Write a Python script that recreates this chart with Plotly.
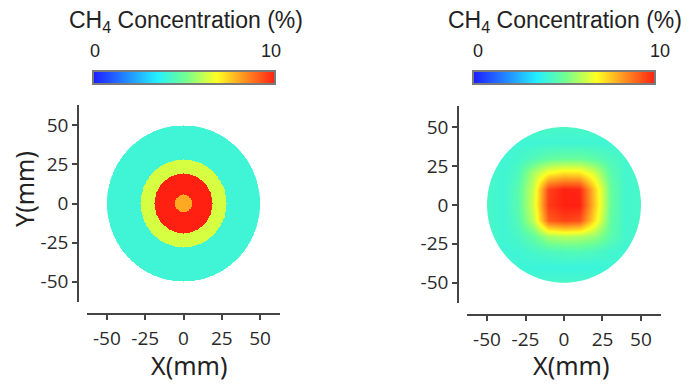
import numpy as np
import plotly.graph_objects as go

W, H = 690, 384

# ---------------- data ----------------
# Left map: concentric rings (outer radius in mm, CH4 %)
ring_outer_radii_mm = [5.5, 19.0, 28.0, 50.0]
ring_values = [8.0, 10.0, 6.3, 4.1]

# Right map: coarse field (rows bottom->top, y=-50..50; cols x=-50..50)
grid_mm = [-50, -40, -30, -20, -10, 0, 10, 20, 30, 40, 50]
right_z = [
    [4.3, 4.3, 4.3, 4.3, 4.3, 4.3, 4.3, 4.3, 4.3, 4.3, 4.3],
    [4.3, 4.2, 4.1, 4.0, 4.0, 4.0, 4.0, 4.0, 4.1, 4.2, 4.3],
    [4.3, 4.1, 4.1, 4.3, 4.4, 4.5, 4.5, 4.4, 4.2, 4.1, 4.3],
    [4.3, 4.1, 4.3, 4.8, 5.7, 5.9, 5.8, 5.5, 4.7, 4.2, 4.3],
    [4.3, 4.1, 4.5, 6.0, 9.1, 9.5, 9.3, 7.2, 4.8, 4.2, 4.3],
    [4.3, 4.1, 4.6, 6.3, 9.6, 10.0, 10.0, 7.6, 4.9, 4.2, 4.3],
    [4.3, 4.1, 4.6, 6.2, 9.5, 10.0, 9.9, 7.5, 4.9, 4.2, 4.3],
    [4.3, 4.1, 4.4, 5.8, 6.9, 7.3, 7.2, 6.3, 4.7, 4.2, 4.3],
    [4.3, 4.1, 4.2, 4.5, 4.8, 4.9, 4.9, 4.7, 4.4, 4.2, 4.3],
    [4.3, 4.2, 4.1, 4.1, 4.1, 4.1, 4.1, 4.1, 4.1, 4.2, 4.3],
    [4.3, 4.3, 4.3, 4.3, 4.3, 4.3, 4.3, 4.3, 4.3, 4.3, 4.3],
]

tick_vals = [-50, -25, 0, 25, 50]
tick_text = ["-50", "-25", "0", "25", "50"]
cbar_range = [0, 10]

# ---------------- build left grid from rings ----------------
xs = np.arange(-50, 50.25, 0.5)
XX, YY = np.meshgrid(xs, xs)
RR = np.sqrt(XX**2 + YY**2)
left_z = np.full(RR.shape, np.nan)
for r, v in sorted(zip(ring_outer_radii_mm, ring_values), reverse=True):
    left_z[RR <= r] = v

colorscale = [
    [0.0, "#1c1cff"], [0.12, "#2262ff"], [0.35, "#22efff"], [0.5, "#6cff96"],
    [0.68, "#ffff22"], [0.82, "#ff9a22"], [1.0, "#ff2012"],
]

fig = go.Figure()
fig.add_trace(go.Heatmap(x=xs, y=xs, z=left_z, coloraxis="coloraxis",
                         xaxis="x", yaxis="y", hoverinfo="skip"))
fig.add_trace(go.Heatmap(x=grid_mm, y=grid_mm, z=right_z, coloraxis="coloraxis2",
                         xaxis="x2", yaxis="y2", zsmooth="best", hoverinfo="skip"))

# circular white mask (rectangle minus circle)
ang = np.linspace(0, 2 * np.pi, 181)[::-1]
circ = " ".join(("M" if i == 0 else "L") + f"{50*np.cos(a):.3f},{50*np.sin(a):.3f}"
                for i, a in enumerate(ang))
mask_path = "M-90,-90 L90,-90 L90,90 L-90,90 Z " + circ + " Z"
for xr, yr in [("x", "y"), ("x2", "y2")]:
    fig.add_shape(type="path", path=mask_path, xref=xr, yref=yr,
                  fillcolor="white", line=dict(width=0), layer="above")

def px_x(p):
    return p / W

def px_y(p):
    return (H - p) / H

TICK_SIZE = 19

def axis(domain, rng, pos, is_x):
    d = dict(domain=domain, range=rng, anchor="free", position=pos,
             showgrid=False, zeroline=False, showline=True, linecolor="#444444",
             linewidth=1.5, ticks="outside", ticklen=5, tickwidth=1.5, tickcolor="#444444",
             tickmode="array", tickvals=tick_vals, ticktext=tick_text,
             tickfont=dict(family="Open Sans, Noto Sans, sans-serif", size=TICK_SIZE,
                           color="#2a2a2a"),
             fixedrange=True)
    if is_x:
        d["ticklabelstandoff"] = 2
    return d

fig.update_layout(
    width=W, height=H, margin=dict(l=0, r=0, t=0, b=0),
    font=dict(family="Open Sans, Noto Sans, sans-serif", size=TICK_SIZE, color="#2a2a2a"),
    paper_bgcolor="white", plot_bgcolor="white", showlegend=False,
    xaxis=axis([px_x(87), px_x(280)], [-63, 63], px_y(314), True),
    yaxis=axis([px_y(302), px_y(105)], [-63, 63], px_x(78), False),
    xaxis2=axis([px_x(467), px_x(661)], [-63, 63], px_y(315), True),
    yaxis2=axis([px_y(303), px_y(106)], [-63, 63.5], px_x(458), False),
)

def cbar(x0):
    return dict(orientation="h", thickness=13, len=182, lenmode="pixels",
                x=px_x(x0), xanchor="left", y=px_y(86), yanchor="bottom",
                xpad=0, ypad=0, outlinecolor="#7a7a7a", outlinewidth=2,
                showticklabels=False, ticks="")

fig.update_layout(
    coloraxis=dict(colorscale=colorscale, cmin=cbar_range[0], cmax=cbar_range[1],
                   colorbar=cbar(93)),
    coloraxis2=dict(colorscale=colorscale, cmin=cbar_range[0], cmax=cbar_range[1],
                    colorbar=cbar(473)),
)

title_font = dict(family="Liberation Sans, Arial, sans-serif", size=23, color="#222222")
lab_font = dict(family="Liberation Sans, Arial, sans-serif", size=18, color="#222222")
big_font = dict(family="Noto Sans, Open Sans, sans-serif", size=25, color="#222222")

anns = []
for cx, z0, z1 in [(186, 95, 271), (565, 478, 660)]:
    anns.append(dict(text="CH<sub>4</sub> Concentration (%)", x=px_x(cx), y=px_y(22),
                     font=title_font))
    anns.append(dict(text=str(cbar_range[0]), x=px_x(z0), y=px_y(51), font=lab_font))
    anns.append(dict(text=str(cbar_range[1]), x=px_x(z1), y=px_y(51), font=lab_font))
anns.append(dict(text="X(mm)", x=px_x(189), y=px_y(365), font=big_font))
anns.append(dict(text="X(mm)", x=px_x(571), y=px_y(365), font=big_font))
anns.append(dict(text="Y(mm)", x=px_x(24), y=px_y(189), font=big_font, textangle=-90))
for a in anns:
    a.update(xref="paper", yref="paper", showarrow=False, xanchor="center", yanchor="middle")
fig.update_layout(annotations=anns)

fig.write_html("out.html")
